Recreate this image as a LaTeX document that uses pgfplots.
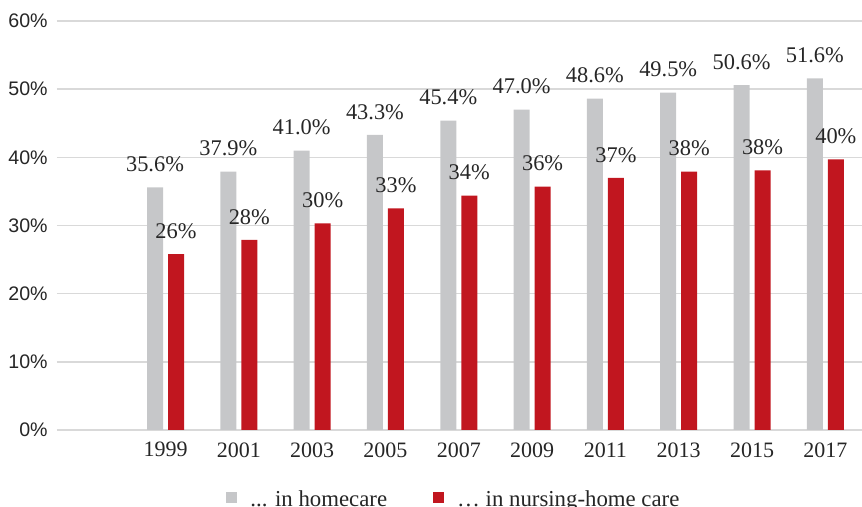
\documentclass[border=0pt]{standalone}
\usepackage{pgfplots}
\usepackage{pgfplotstable}
\usepackage{fontspec}
\pgfplotsset{compat=1.18}
\setmainfont{Liberation Serif}
\newfontfamily\ticksans{Liberation Sans}
\definecolor{homegray}{HTML}{C6C7C9}
\definecolor{carered}{HTML}{C1161F}
\definecolor{gridgray}{HTML}{D9D9D9}
\definecolor{txt}{HTML}{262626}

% x: 0 = 1999 ... 9 = 2017; labels are the rounded values shown
\pgfplotstableread{
x home hlab nurse nlab
0 35.6 35.6 25.8 26
1 37.9 37.9 27.9 28
2 41.0 41.0 30.3 30
3 43.3 43.3 32.5 33
4 45.4 45.4 34.4 34
5 47.0 47.0 35.7 36
6 48.6 48.6 37.0 37
7 49.5 49.5 37.9 38
8 50.6 50.6 38.1 38
9 51.6 51.6 39.7 40
}\datatable

\begin{document}
\begin{tikzpicture}
\begin{axis}[
    name=ax,
    scale only axis,
    width=402.5pt,
    height=204.5pt,
    ybar=2.5pt,
    bar width=8pt,
    xmin=-1.48, xmax=9.5,
    ymin=0, ymax=60,
    enlargelimits=false,
    xtick={0,1,2,3,4,5,6,7,8,9},
    xticklabels={1999,2001,2003,2005,2007,2009,2011,2013,2015,2017},
    ytick={0,10,20,30,40,50,60},
    yticklabel={\pgfmathprintnumber{\tick}\%},
    major tick length=0pt,
    axis line style={draw=none},
    ymajorgrids=true,
    grid style={gridgray, line width=0.8pt},
    /pgf/number format/assume math mode=true,
    yticklabel style={font=\ticksans\fontsize{9.8}{11}\selectfont, text=txt, anchor=east, inner sep=0pt, xshift=-4.5pt},
    xticklabel style={font=\fontsize{11}{13}\selectfont, text=txt, anchor=north, inner sep=0pt, yshift=-6pt},
    point meta=explicit symbolic,
    nodes near coords={\pgfplotspointmeta\%},
    every node near coord/.append style={font=\fontsize{11.2}{13}\selectfont, text=txt, anchor=south, inner sep=0pt, yshift=7.5pt},
    legend columns=2,
    legend style={draw=none, at={(axis description cs:0.21,-0.171)}, anchor=west,
        font=\fontsize{11.4}{13}\selectfont, text=txt, inner sep=0pt,
        /tikz/every even column/.append style={column sep=21pt}},
    legend image code/.code={\fill[#1] (0pt,-1.5pt) rectangle (5.5pt,4pt); \path[draw=none,fill=none] (0pt,0pt) (10pt,0pt);},
]
\addplot[fill=homegray, draw=none] table[x=x, y=home, meta=hlab] {\datatable};
\addlegendentry{.{}.{}. in homecare}
\addplot[fill=carered, draw=none] table[x=x, y=nurse, meta=nlab] {\datatable};
\addlegendentry{… in nursing-home care}
\end{axis}
\pgfresetboundingbox
\path[use as bounding box] ([xshift=-28.5pt, yshift=-38.5pt]ax.south west) rectangle ([yshift=10.5pt]ax.north east);
\end{tikzpicture}
\end{document}
